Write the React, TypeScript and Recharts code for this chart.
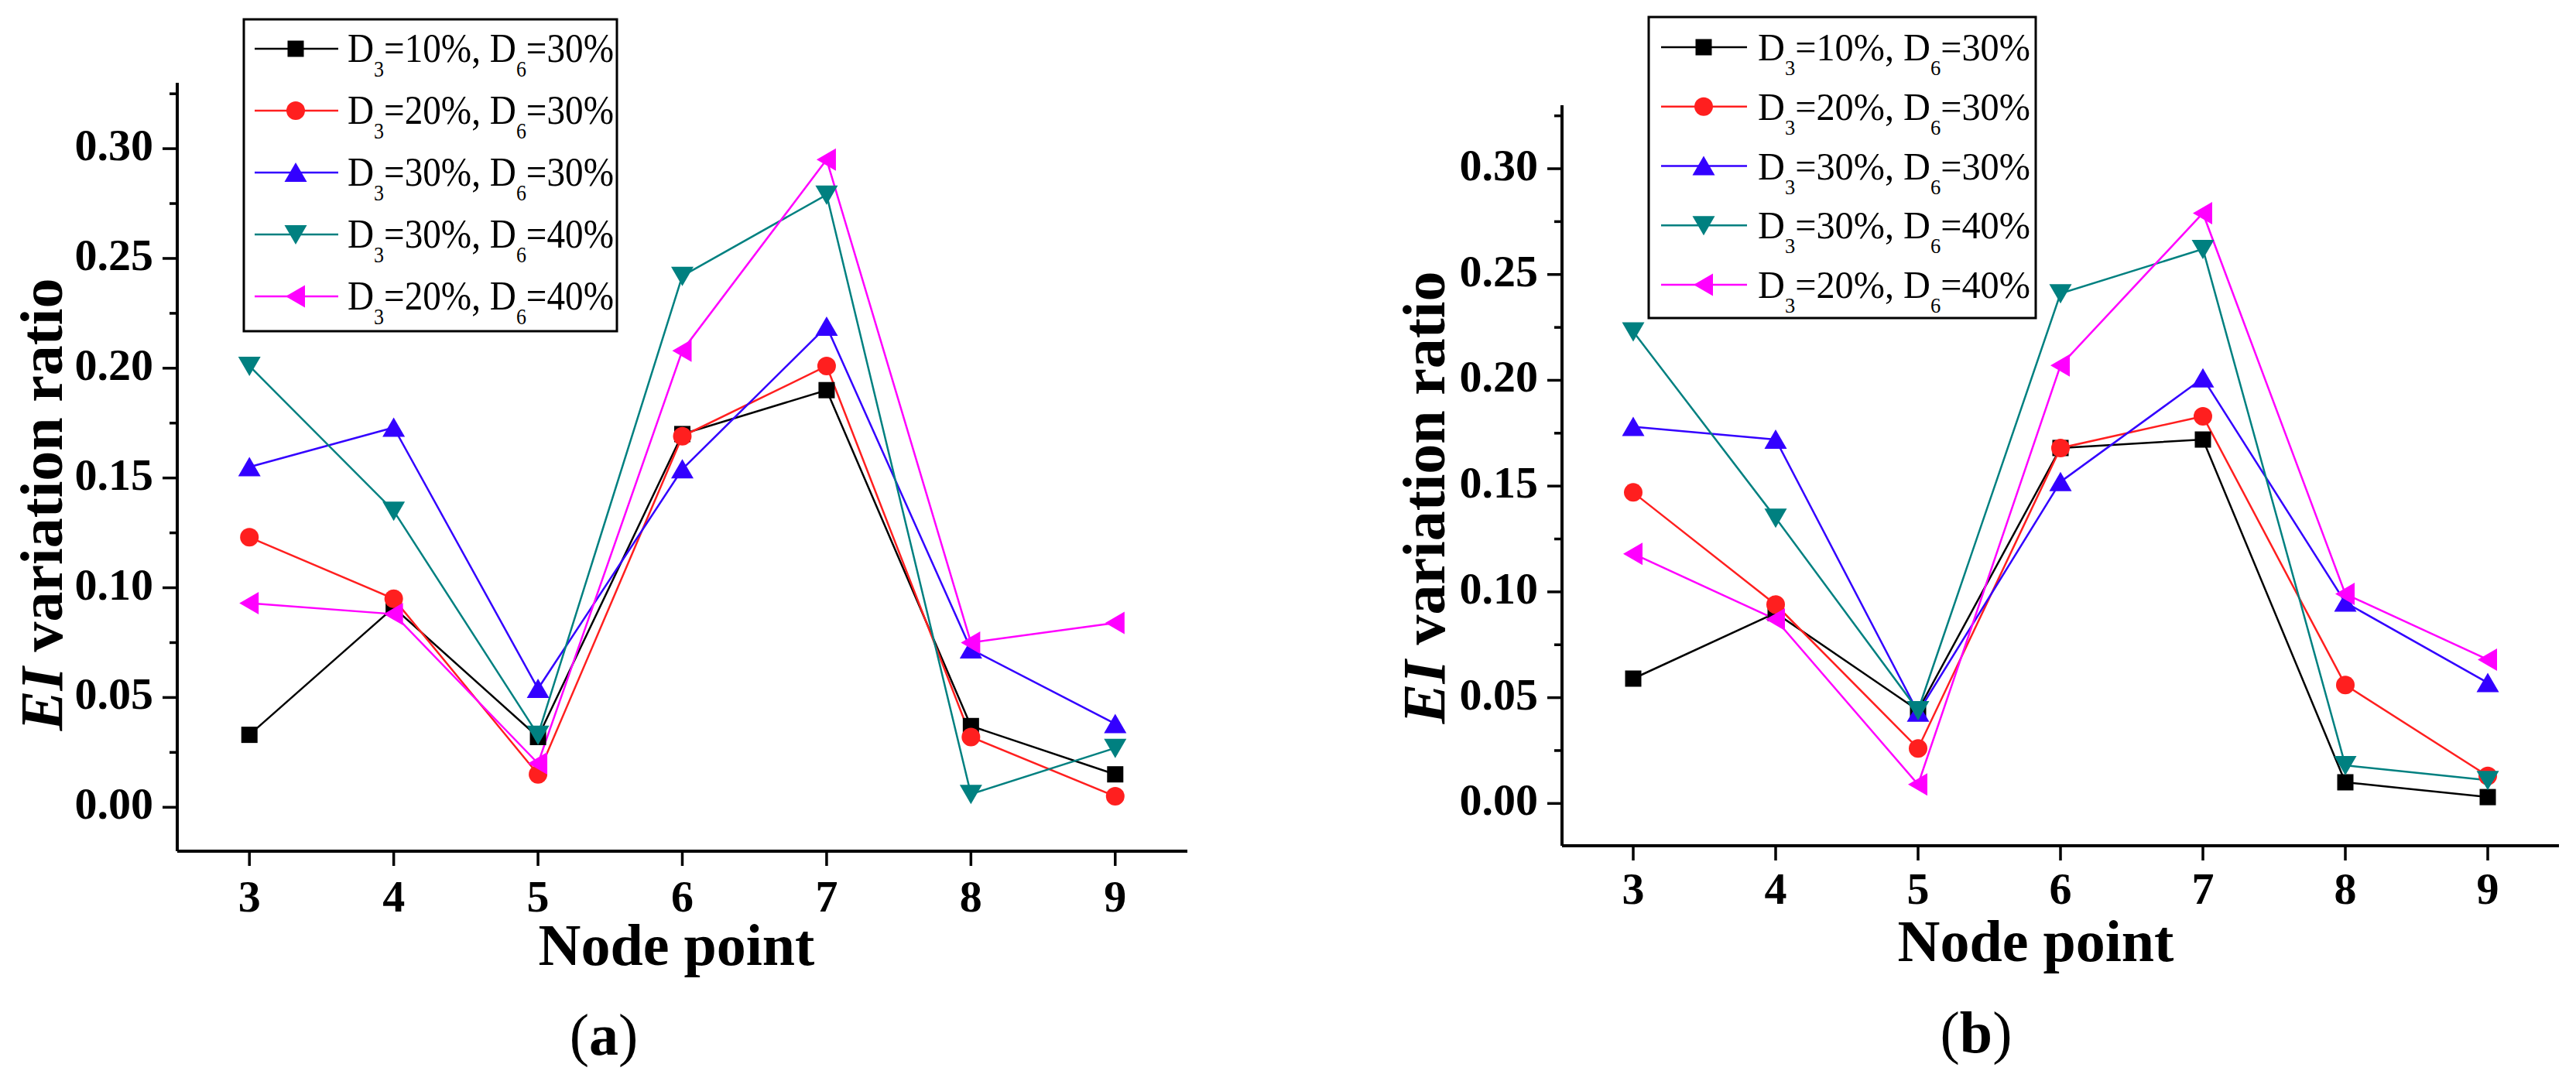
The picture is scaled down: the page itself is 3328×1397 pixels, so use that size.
import React from "react";
import { LineChart, Line, XAxis, YAxis } from "recharts";

const nodePoints = [3, 4, 5, 6, 7, 8, 9];

// (a) EI variation ratio per node point
const a_d3_10_d6_30 = [0.033, 0.091, 0.032, 0.17, 0.19, 0.037, 0.015];
const a_d3_20_d6_30 = [0.123, 0.095, 0.015, 0.169, 0.201, 0.032, 0.005];
const a_d3_30_d6_30 = [0.155, 0.173, 0.054, 0.154, 0.219, 0.072, 0.038];
const a_d3_30_d6_40 = [0.201, 0.135, 0.033, 0.242, 0.279, 0.006, 0.027];
const a_d3_20_d6_40 = [0.093, 0.088, 0.02, 0.208, 0.295, 0.075, 0.084];

// (b)
const b_d3_10_d6_30 = [0.059, 0.09, 0.044, 0.168, 0.172, 0.01, 0.003];
const b_d3_20_d6_30 = [0.147, 0.094, 0.026, 0.168, 0.183, 0.056, 0.013];
const b_d3_30_d6_30 = [0.178, 0.172, 0.043, 0.152, 0.201, 0.095, 0.057];
const b_d3_30_d6_40 = [0.223, 0.135, 0.044, 0.241, 0.262, 0.018, 0.011];
const b_d3_20_d6_40 = [0.118, 0.087, 0.009, 0.207, 0.279, 0.099, 0.068];

const seriesD3 = ["10%", "20%", "30%", "30%", "20%"];
const seriesD6 = ["30%", "30%", "30%", "40%", "40%"];
const seriesColors = ["#000000", "#ff1f1f", "#3300ff", "#008080", "#ff00ff"];
const seriesShapes = ["square", "circle", "up", "down", "left"];

const majorYTicks = [0, 0.05, 0.1, 0.15, 0.2, 0.25, 0.3];
const minorYTicks = [0.025, 0.075, 0.125, 0.175, 0.225, 0.275, 0.325];
const yTicks = [...majorYTicks, ...minorYTicks].sort((p, q) => p - q);

const W = 3328;
const H = 1397;
const FONT = "'Liberation Serif', 'Times New Roman', serif";

const panels = [
  {
    caption: "a",
    values: [a_d3_10_d6_30, a_d3_20_d6_30, a_d3_30_d6_30, a_d3_30_d6_40, a_d3_20_d6_40],
    left: 0, width: 1664,
    plotLeft: 229, plotRight: 1534, plotTop: 107, plotBottom: 1100,
    xTickDy: 59, yTitleX: 80, yTitleY: 652, xTitleX: 874, xTitleY: 1247, captionX: 780, captionY: 1363,
    legend: { x: 315, y: 25, w: 482, h: 403, row0: 63, gap: 80, l0: 329, l1: 437, mx: 382, tx: 449, tlen: 344, fs: 52 },
  },
  {
    caption: "b",
    values: [b_d3_10_d6_30, b_d3_20_d6_30, b_d3_30_d6_30, b_d3_30_d6_40, b_d3_20_d6_40],
    left: 1664, width: 1664,
    plotLeft: 2018, plotRight: 3306, plotTop: 136, plotBottom: 1093,
    xTickDy: 56, yTitleX: 1866, yTitleY: 643, xTitleX: 2630, xTitleY: 1242, captionX: 2553, captionY: 1360,
    legend: { x: 2130, y: 22, w: 500, h: 389, row0: 61, gap: 76.75, l0: 2146, l1: 2257, mx: 2201, tx: 2271, tlen: 352, fs: 50 },
  },
];

function Marker({ cx, cy, shape, color }: any) {
  if (cx == null || cy == null) return null;
  if (shape === "square") return <rect x={cx - 10.5} y={cy - 10.5} width={21} height={21} fill={color} />;
  if (shape === "circle") return <circle cx={cx} cy={cy} r={12} fill={color} />;
  if (shape === "up") return <polygon points={`${cx},${cy - 13} ${cx + 14.5},${cy + 12} ${cx - 14.5},${cy + 12}`} fill={color} />;
  if (shape === "down") return <polygon points={`${cx - 14.5},${cy - 12} ${cx + 14.5},${cy - 12} ${cx},${cy + 13}`} fill={color} />;
  return <polygon points={`${cx - 13},${cy} ${cx + 12},${cy - 14.5} ${cx + 12},${cy + 14.5}`} fill={color} />;
}

function YTick({ x, y, payload }: any) {
  const v = payload.value;
  const major = Math.round(v * 40) % 2 === 0;
  return (
    <g>
      <line x1={x} x2={x - (major ? 19 : 10)} y1={y} y2={y} stroke="#000" strokeWidth={3.5} />
      {major && (
        <text x={x - 31} y={y + 15} textAnchor="end" fontFamily={FONT} fontWeight="bold" fontSize={58} fill="#000">
          {v.toFixed(2)}
        </text>
      )}
    </g>
  );
}

function XTick({ x, y, payload, dy }: any) {
  return (
    <text x={x} y={y + dy} textAnchor="middle" fontFamily={FONT} fontWeight="bold" fontSize={58} fill="#000">
      {payload.value}
    </text>
  );
}

function Overlay({ p }: any) {
  const lg = p.legend;
  return (
    <svg width={p.width} height={H} style={{ position: "absolute", left: 0, top: 0, pointerEvents: "none" }}>
      <g transform={`translate(${-p.left},0)`} fontFamily={FONT} fill="#000">
        <text transform={`translate(${p.yTitleX},${p.yTitleY}) rotate(-90)`} textAnchor="middle" fontSize={78} fontWeight="bold">
          <tspan fontStyle="italic">EI</tspan> variation ratio
        </text>
        <text x={p.xTitleX} y={p.xTitleY} textAnchor="middle" fontSize={76} fontWeight="bold">Node point</text>
        <text x={p.captionX} y={p.captionY} textAnchor="middle" fontSize={76}>
          (<tspan fontWeight="bold">{p.caption}</tspan>)
        </text>
        <rect x={lg.x} y={lg.y} width={lg.w} height={lg.h} fill="#fff" stroke="#000" strokeWidth={3} />
        {seriesColors.map((c, i) => {
          const ry = lg.row0 + i * lg.gap;
          return (
            <g key={i}>
              <line x1={lg.l0} x2={lg.l1} y1={ry} y2={ry} stroke={c} strokeWidth={2.5} />
              <Marker cx={lg.mx} cy={ry} shape={seriesShapes[i]} color={c} />
              <text x={lg.tx} y={ry + 17} fontSize={lg.fs} textLength={lg.tlen} lengthAdjust="spacingAndGlyphs">
                D<tspan fontSize={lg.fs * 0.55} dy={19}>3</tspan>
                <tspan dy={-19}>={seriesD3[i]}, D</tspan>
                <tspan fontSize={lg.fs * 0.55} dy={19}>6</tspan>
                <tspan dy={-19}>={seriesD6[i]}</tspan>
              </text>
            </g>
          );
        })}
      </g>
    </svg>
  );
}

function Panel({ p }: any) {
  const rows = nodePoints.map((n, i) => {
    const r: any = { node: n };
    p.values.forEach((vals: number[], k: number) => (r[`s${k}`] = vals[i]));
    return r;
  });
  return (
    <div style={{ position: "absolute", left: p.left, top: 0, width: p.width, height: H }}>
      <LineChart
        width={p.width}
        height={H}
        data={rows}
        margin={{ top: p.plotTop, right: p.left + p.width - p.plotRight, bottom: 0, left: 0 }}
      >
        <XAxis
          type="number"
          dataKey="node"
          domain={[2.5, 9.5]}
          ticks={nodePoints}
          interval={0}
          height={H - p.plotBottom}
          axisLine={{ stroke: "#000", strokeWidth: 4 }}
          tickLine={{ stroke: "#000", strokeWidth: 3.5 }}
          tickSize={19}
          tickMargin={0}
          tick={<XTick dy={p.xTickDy} />}
        />
        <YAxis
          type="number"
          domain={[-0.02, 0.33]}
          ticks={yTicks}
          interval={0}
          width={p.plotLeft - p.left}
          axisLine={{ stroke: "#000", strokeWidth: 4 }}
          tickLine={false}
          tickSize={0}
          tickMargin={0}
          tick={<YTick />}
        />
        {seriesColors.map((c, k) => (
          <Line
            key={k}
            type="linear"
            dataKey={`s${k}`}
            stroke={c}
            strokeWidth={2.5}
            isAnimationActive={false}
            activeDot={false}
            dot={(d: any) => <Marker key={`m${k}-${d.index}`} cx={d.cx} cy={d.cy} shape={seriesShapes[k]} color={c} />}
          />
        ))}
      </LineChart>
      <Overlay p={p} />
    </div>
  );
}

export default function App() {
  return (
    <div style={{ position: "absolute", left: 0, top: 0, width: W, height: H, background: "#fff" }}>
      {panels.map((p) => (
        <Panel key={p.caption} p={p} />
      ))}
    </div>
  );
}
